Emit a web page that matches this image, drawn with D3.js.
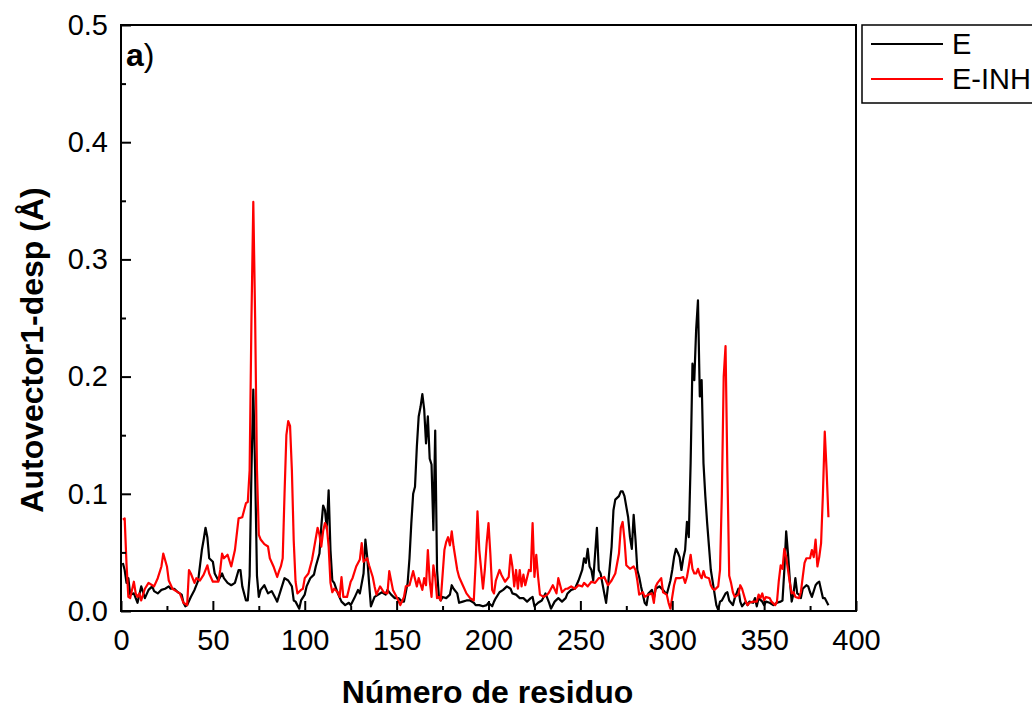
<!DOCTYPE html>
<meta charset="utf-8">
<head>
<style>
body { margin: 0; background: #fff; }
text { font-family: "Liberation Sans", Arial, sans-serif; }
</style>
<script src="https://cdnjs.cloudflare.com/ajax/libs/d3/7.8.5/d3.min.js"></script>
</head>
<body>
<div id="vis-container"></div>
<script>
// series E (black)
var eRes = [1,2,3,4,5,7,8,9,11,13,15,17,18,20,22,24,26,27,29,31,33,34,35,36,38,40,42,44,45,46,47,48,50,51,53,55,56,58,60,62,64,65,66,68,69,70,71,72,73,74,75,76,78,80,82,84,85,87,89,91,93,94,95,97,98,
  100,101,103,105,106,108,109,110,111,112,113,114,115,116,118,120,122,124,125,127,129,130,132,133,134,135,136,138,140,142,144,145,147,149,151,153,154,155,156,157,158,159,160,161,162,163,164,165,166,167,168,169,170,171,172,173,174,175,177,179,180,181,183,184,186,188,190,192,193,195,197,199,
  200,202,203,204,206,208,210,212,213,215,217,219,221,223,224,225,227,229,231,233,234,236,238,240,242,243,245,247,249,251,252,253,254,255,256,257,259,260,261,263,264,265,267,268,269,271,272,273,274,276,277,278,279,280,281,282,283,285,286,287,289,290,291,293,295,297,299,
  300,301,302,303,304,305,306,307,308,309,310,311,312,313,314,315,316,317,318,319,320,321,322,323,324,325,326,327,329,330,331,333,334,336,337,338,340,341,342,344,345,346,347,349,350,351,353,355,357,359,360,361,362,363,364,365,366,367,368,369,370,371,373,374,375,376,378,379,380,381,382,383,385];
var eVal = [0.041,0.035,0.024,0.028,0.014,0.015,0.011,0.007,0.021,0.011,0.018,0.021,0.017,0.015,0.018,0.019,0.021,0.019,0.019,0.016,0.014,0.007,0.004,0.005,0.012,0.018,0.026,0.052,0.061,0.071,0.063,0.045,0.042,0.032,0.026,0.032,0.028,0.024,0.022,0.024,0.035,0.035,0.021,0.009,0.009,0.03,0.12,0.189,0.12,0.03,0.012,0.018,0.022,0.015,0.017,0.011,0.008,0.018,0.028,0.026,0.021,0.009,0.008,0.002,0.009,
  0.014,0.021,0.028,0.031,0.038,0.049,0.072,0.09,0.086,0.07,0.103,0.052,0.026,0.024,0.015,0.008,0.005,0.007,0.005,0.011,0.018,0.015,0.032,0.061,0.046,0.024,0.004,0.012,0.014,0.016,0.014,0.018,0.014,0.011,0.011,0.008,0.008,0.016,0.024,0.045,0.075,0.1,0.106,0.14,0.166,0.174,0.185,0.172,0.143,0.166,0.13,0.125,0.069,0.154,0.035,0.012,0.009,0.012,0.011,0.014,0.022,0.019,0.015,0.007,0.008,0.009,0.009,0.007,0.005,0.005,0.004,0.005,
  0.007,0.004,0.008,0.011,0.016,0.018,0.021,0.019,0.015,0.014,0.011,0.011,0.008,0.011,0.012,0.004,0.007,0.009,0.015,0.007,0.002,0.008,0.011,0.008,0.011,0.015,0.018,0.019,0.026,0.035,0.045,0.041,0.053,0.038,0.035,0.026,0.071,0.035,0.032,0.015,0.007,0.021,0.055,0.086,0.095,0.098,0.102,0.102,0.098,0.08,0.063,0.053,0.082,0.061,0.035,0.029,0.021,0.007,0.005,0.015,0.018,0.011,0.019,0.021,0.018,0.014,0.026,
  0.035,0.046,0.053,0.05,0.046,0.035,0.045,0.052,0.076,0.063,0.126,0.211,0.197,0.24,0.265,0.183,0.197,0.126,0.098,0.075,0.055,0.035,0.025,0.015,0.005,0.001,0.008,0.009,0.015,0.016,0.009,0.005,0.011,0.019,0.008,0.004,0.008,0.005,0.008,0.007,0.011,0.004,0.011,0.008,0.005,0.008,0.007,0.005,0.007,0.008,0.009,0.035,0.068,0.049,0.026,0.008,0.015,0.028,0.015,0.014,0.011,0.019,0.022,0.021,0.016,0.012,0.022,0.024,0.025,0.018,0.011,0.011,0.005];

// series E-INH (red)
var inhRes = [1,2,3,4,5,7,8,9,10,11,13,15,17,18,20,22,23,25,26,28,30,32,34,36,37,38,40,41,43,45,47,48,50,53,54,55,56,58,60,62,64,66,68,69,70,71,72,73,74,75,76,78,80,81,83,85,86,87,88,89,90,91,92,93,94,95,96,98,99,
  100,102,104,105,107,108,109,110,111,112,113,114,115,116,118,119,120,121,123,125,126,128,130,131,132,134,135,137,138,139,141,143,145,146,148,150,152,154,155,157,159,161,162,164,165,166,167,168,169,170,171,172,173,174,176,177,178,179,180,181,183,184,186,188,190,192,193,194,195,197,198,199,
  200,201,202,203,204,206,207,209,211,212,213,214,215,216,217,218,219,220,222,223,224,225,226,227,228,230,232,233,235,237,238,240,242,243,245,247,249,251,252,254,256,258,260,262,263,265,267,269,271,272,273,274,275,277,279,280,281,282,284,285,287,289,290,291,292,294,295,297,298,299,
  300,301,302,304,306,307,308,309,310,311,312,313,314,315,316,317,318,320,321,322,323,325,326,327,328,329,330,331,332,333,334,336,337,338,340,341,342,344,346,347,348,349,350,351,353,354,356,357,358,359,360,361,362,363,364,365,366,367,369,370,371,372,373,375,376,377,378,379,380,381,382,383,384,385];
var inhVal = [0.078,0.079,0.04,0.012,0.011,0.025,0.015,0.012,0.015,0.009,0.019,0.024,0.022,0.021,0.028,0.038,0.049,0.038,0.026,0.019,0.017,0.015,0.007,0.005,0.035,0.032,0.024,0.028,0.026,0.031,0.039,0.032,0.025,0.025,0.035,0.049,0.045,0.048,0.038,0.052,0.079,0.08,0.092,0.093,0.12,0.25,0.349,0.25,0.12,0.065,0.061,0.057,0.055,0.045,0.038,0.029,0.034,0.038,0.045,0.1,0.15,0.162,0.158,0.12,0.06,0.025,0.015,0.018,0.019,
  0.028,0.032,0.044,0.053,0.071,0.065,0.055,0.068,0.075,0.072,0.055,0.024,0.016,0.019,0.016,0.012,0.029,0.012,0.012,0.025,0.028,0.038,0.044,0.058,0.042,0.045,0.039,0.029,0.021,0.014,0.021,0.016,0.015,0.034,0.018,0.012,0.005,0.012,0.021,0.022,0.034,0.021,0.028,0.018,0.028,0.022,0.052,0.026,0.012,0.039,0.029,0.011,0.012,0.009,0.052,0.059,0.063,0.056,0.068,0.055,0.035,0.029,0.022,0.015,0.011,0.009,0.041,0.085,0.052,0.019,0.035,0.058,
  0.075,0.049,0.018,0.015,0.026,0.035,0.031,0.025,0.029,0.048,0.038,0.021,0.035,0.019,0.035,0.021,0.031,0.022,0.035,0.034,0.075,0.029,0.048,0.029,0.014,0.012,0.014,0.016,0.022,0.015,0.028,0.016,0.019,0.019,0.021,0.019,0.022,0.021,0.024,0.021,0.025,0.024,0.028,0.028,0.029,0.022,0.026,0.032,0.049,0.071,0.076,0.061,0.039,0.036,0.038,0.035,0.026,0.014,0.016,0.012,0.014,0.015,0.007,0.021,0.024,0.028,0.016,0.014,0.007,0.002,
  0.012,0.022,0.028,0.028,0.029,0.024,0.029,0.038,0.048,0.036,0.032,0.032,0.036,0.031,0.028,0.034,0.029,0.028,0.022,0.019,0.018,0.021,0.035,0.1,0.2,0.226,0.12,0.03,0.024,0.016,0.012,0.014,0.022,0.019,0.008,0.005,0.007,0.008,0.008,0.014,0.011,0.015,0.009,0.012,0.011,0.008,0.005,0.008,0.026,0.039,0.036,0.053,0.046,0.035,0.024,0.015,0.016,0.012,0.011,0.016,0.029,0.041,0.045,0.045,0.052,0.046,0.061,0.038,0.046,0.058,0.1,0.153,0.12,0.08];

var seriesNames = ['E', 'E-INH'];
var seriesColors = ['#000000', '#ff0000'];
var xTicks = [0, 50, 100, 150, 200, 250, 300, 350, 400];
var yTicks = [0.0, 0.1, 0.2, 0.3, 0.4, 0.5];

var makePoints = function(res, val){
	var pts = [];
	for (var i = 0; i < res.length; i ++){
		pts.push({r: res[i], v: val[i]});
	}
	return pts;
};
var series = [makePoints(eRes, eVal), makePoints(inhRes, inhVal)];

var margin = {top: 25, left: 121},
    width = 735,
    height = 586;

var x = d3.scaleLinear().domain([0, 400]).range([0, width]);
var y = d3.scaleLinear().domain([0, 0.5]).range([height, 0]);

var svg = d3.select('#vis-container').append('svg')
	.attr('width', 1032)
	.attr('height', 711);

var g = svg.append('g')
	.attr('transform', 'translate(' + margin.left + ',' + margin.top + ')');

// data lines
var line = d3.line()
	.x(function(d) { return x(d.r); })
	.y(function(d) { return y(d.v); });

series.forEach(function(s, i){
	g.append('path')
		.datum(s)
		.attr('fill', 'none')
		.attr('stroke', seriesColors[i])
		.attr('stroke-width', 2.2)
		.attr('stroke-linejoin', 'round')
		.attr('d', line);
});

// axes, ticks pointing inward
var xAxis = g.append('g')
	.attr('transform', 'translate(0,' + height + ')')
	.call(d3.axisBottom(x).tickValues(xTicks).tickSizeInner(-10).tickSizeOuter(0).tickPadding(18).tickFormat(d3.format('d')));
var xMinor = g.append('g')
	.attr('transform', 'translate(0,' + height + ')')
	.call(d3.axisBottom(x).tickValues(d3.range(25, 400, 50)).tickSizeInner(-5).tickSizeOuter(0).tickFormat(''));

var yAxis = g.append('g')
	.call(d3.axisLeft(y).tickValues(yTicks).tickSizeInner(-10).tickSizeOuter(0).tickPadding(13).tickFormat(d3.format('.1f')));
var yMinor = g.append('g')
	.call(d3.axisLeft(y).tickValues([0.05, 0.15, 0.25, 0.35, 0.45]).tickSizeInner(-5).tickSizeOuter(0).tickFormat(''));

[xAxis, xMinor, yAxis, yMinor].forEach(function(a){
	a.select('.domain').remove();
	a.selectAll('line').attr('stroke', '#000').attr('stroke-width', 2);
	a.selectAll('text').attr('font-size', 29).attr('fill', '#000')
		.style('font-family', '"Liberation Sans", Arial, sans-serif');
});

// frame
g.append('rect')
	.attr('x', 0).attr('y', 0)
	.attr('width', width).attr('height', height)
	.attr('fill', 'none')
	.attr('stroke', '#000')
	.attr('stroke-width', 2);

// panel label
var lab = g.append('text')
	.attr('x', 5).attr('y', 41)
	.attr('font-size', 32);
lab.append('tspan').attr('font-weight', 'bold').text('a');
lab.append('tspan').text(')');

// axis titles
svg.append('text')
	.attr('x', margin.left + width / 2 - 1)
	.attr('y', 703)
	.attr('text-anchor', 'middle')
	.attr('font-size', 32)
	.attr('font-weight', 'bold')
	.text('Número de residuo');

svg.append('text')
	.attr('transform', 'translate(43,350) rotate(-90)')
	.attr('text-anchor', 'middle')
	.attr('font-size', 32)
	.attr('font-weight', 'bold')
	.text('Autovector1-desp (Å)');

// legend
var legend = svg.append('g');
legend.append('rect')
	.attr('x', 862).attr('y', 25)
	.attr('width', 200).attr('height', 78)
	.attr('fill', '#fff')
	.attr('stroke', '#000')
	.attr('stroke-width', 1.5);
seriesNames.forEach(function(n, i){
	var ly = 44 + i * 35;
	legend.append('line')
		.attr('x1', 871).attr('x2', 943)
		.attr('y1', ly).attr('y2', ly)
		.attr('stroke', seriesColors[i])
		.attr('stroke-width', 2);
	legend.append('text')
		.attr('x', 952).attr('y', ly + 10)
		.attr('font-size', 29)
		.text(n);
});
</script>
</body>
</html>
